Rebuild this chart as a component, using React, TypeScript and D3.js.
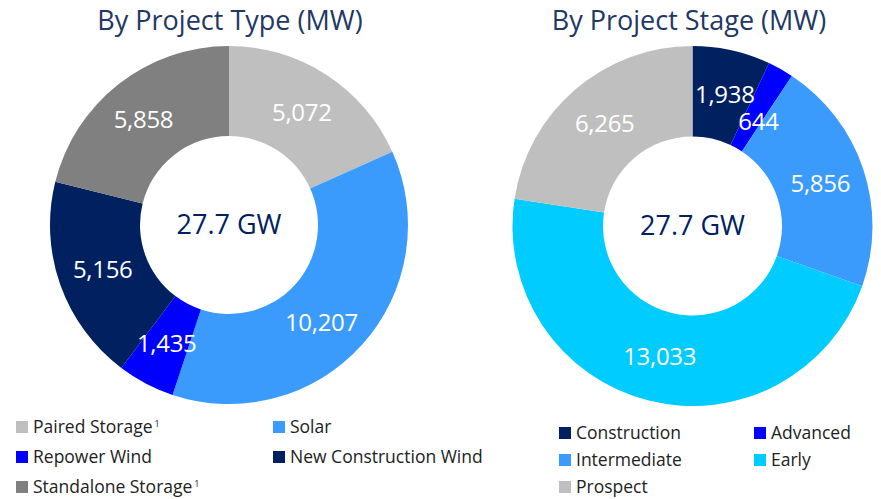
import React from "react";
import * as d3 from "d3";

const typeCategories = ["Paired Storage", "Solar", "Repower Wind", "New Construction Wind", "Standalone Storage"];
const typeValues = [5072, 10207, 1435, 5156, 5858];
const typeColors = ["#bfbfbf", "#3a9bfd", "#0000ff", "#002060", "#808080"];
const typeSuperscript = [true, false, false, false, true];

const stageCategories = ["Construction", "Advanced", "Intermediate", "Early", "Prospect"];
const stageValues = [1938, 644, 5856, 13033, 6265];
const stageColors = ["#002060", "#0000ff", "#3a9bfd", "#00ccff", "#bfbfbf"];

const titles = ["By Project Type (MW)", "By Project Stage (MW)"];
const centerLabel = "27.7 GW";

// label nudges (layout only): [dx, dy]
const typeLabelNudge = [[0, 0], [-7, 8], [0, 0], [0, 0], [-3, 0]];
const stageLabelNudge = [[3, 0], [0, 13], [0, 0], [0, 0], [0, 0]];

const FONT = "'Open Sans', 'Noto Sans', sans-serif";
const fmt = d3.format(",");

function Donut({ cx, cy, outer, inner, values, colors, nudge }: any) {
  const pie = d3.pie<number>().sort(null).value((d) => d)(values);
  const arc = d3.arc<any>().innerRadius(inner).outerRadius(outer);
  return (
    <g transform={`translate(${cx},${cy})`}>
      {pie.map((p, i) => (
        <path key={i} d={arc(p) as string} fill={colors[i]} />
      ))}
      {pie.map((p, i) => {
        const [x, y] = arc.centroid(p);
        return (
          <text key={"l" + i} x={x + nudge[i][0]} y={y + nudge[i][1]} dy="0.35em" textAnchor="middle" fill="#fff" fontSize={24} fontFamily={FONT} letterSpacing={-0.3}>
            {fmt(values[i])}
          </text>
        );
      })}
      <text x={0} y={0} dy="0.35em" textAnchor="middle" fill="#002060" fontSize={27} fontFamily={FONT}>
        {centerLabel}
      </text>
    </g>
  );
}

function Legend({ x0, y0, colX, rowH, cats, colors, sup }: any) {
  return (
    <g>
      {cats.map((c: string, i: number) => {
        const col = i % 2;
        const row = Math.floor(i / 2);
        const x = x0 + col * colX;
        const y = y0 + row * rowH;
        return (
          <g key={i} transform={`translate(${x},${y})`}>
            <rect x={0} y={-6} width={12} height={12} fill={colors[i]} />
            <text x={17} y={0} dy="0.35em" fontSize={17.5} fill="#222" fontFamily={FONT}>
              {c}
              {sup && sup[i] ? (
                <tspan fontSize={9} dx={2} dy={-6}>1</tspan>
              ) : null}
            </text>
          </g>
        );
      })}
    </g>
  );
}

export default function App() {
  return (
    <svg width={881} height={499} style={{ position: "absolute", left: 0, top: 0 }}>
      <rect width={881} height={499} fill="#fff" />
      <text x={230} y={30} textAnchor="middle" fontSize={27} fill="#1f3864" fontFamily={FONT}>{titles[0]}</text>
      <text x={689} y={30} textAnchor="middle" fontSize={27} fill="#1f3864" fontFamily={FONT}>{titles[1]}</text>
      <Donut cx={229} cy={225} outer={179} inner={89} values={typeValues} colors={typeColors} nudge={typeLabelNudge} />
      <Donut cx={692.5} cy={226} outer={180} inner={89.5} values={stageValues} colors={stageColors} nudge={stageLabelNudge} />
      <Legend x0={16} y0={427} colX={257} rowH={30} cats={typeCategories} colors={typeColors} sup={typeSuperscript} />
      <Legend x0={559} y0={433} colX={195} rowH={27} cats={stageCategories} colors={stageColors} />
    </svg>
  );
}
